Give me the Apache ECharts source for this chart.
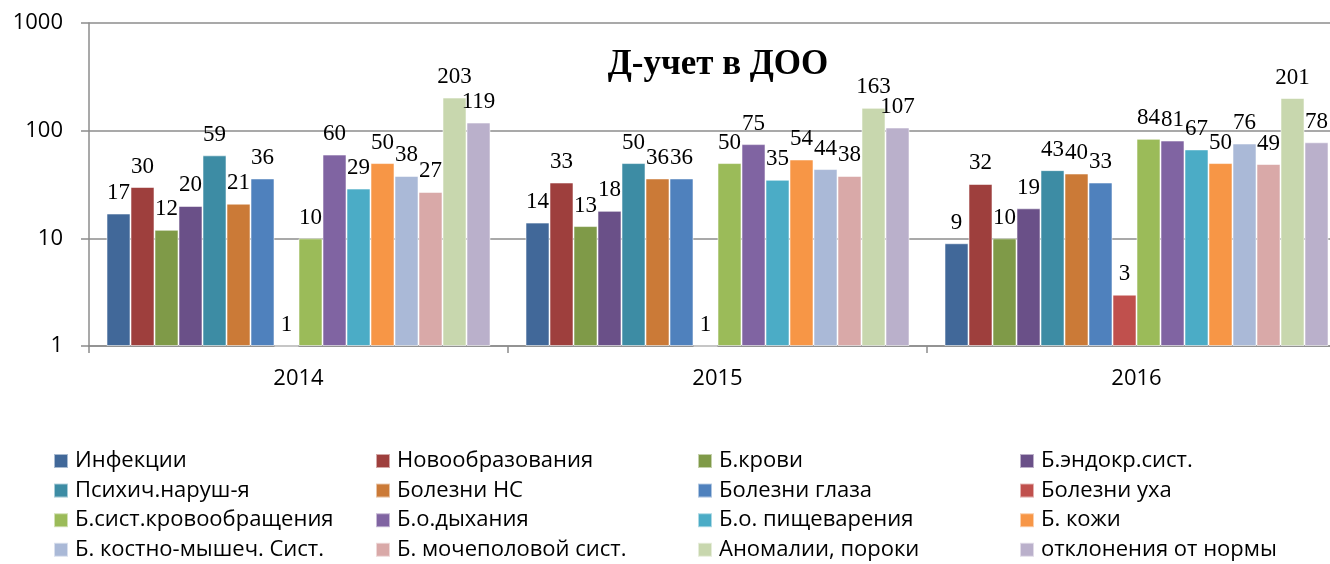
<!DOCTYPE html>
<html>
<head>
<meta charset="utf-8">
<script src="https://cdn.jsdelivr.net/npm/echarts@6/dist/echarts.min.js"></script>
<style>
  html, body { margin: 0; padding: 0; background: #fff; }
  #chart { width: 1330px; height: 564px; }
</style>
</head>
<body>
<div id="chart"></div>
<script>
// Years on the category axis
const years = ['2014', '2015', '2016'];

// Disease groups (series names)
const seriesNames = [
  'Инфекции', 'Новообразования', 'Б.крови', 'Б.эндокр.сист.',
  'Психич.наруш-я', 'Болезни НС', 'Болезни глаза', 'Болезни уха',
  'Б.сист.кровообращения', 'Б.о.дыхания', 'Б.о. пищеварения', 'Б. кожи',
  'Б. костно-мышеч. Сист.', 'Б. мочеполовой сист.', 'Аномалии, пороки', 'отклонения от нормы'
];

// Values per series, in the order of years
const infections     = [17, 14, 9];
const neoplasms      = [30, 33, 32];
const blood          = [12, 13, 10];
const endocrine      = [20, 18, 19];
const mental         = [59, 50, 43];
const nervous        = [21, 36, 40];
const eye            = [36, 36, 33];
const ear            = [1, 1, 3];
const circulatory    = [10, 50, 84];
const respiratory    = [60, 75, 81];
const digestive      = [29, 35, 67];
const skin           = [50, 54, 50];
const musculoskeletal= [38, 44, 76];
const genitourinary  = [27, 38, 49];
const anomalies      = [203, 163, 201];
const deviations     = [119, 107, 78];

const seriesValues = [
  infections, neoplasms, blood, endocrine,
  mental, nervous, eye, ear,
  circulatory, respiratory, digestive, skin,
  musculoskeletal, genitourinary, anomalies, deviations
];

// Value axis tick labels
const yTicks = [1, 10, 100, 1000];

const palette = [
  '#416899', '#9E3F3D', '#7F9A48', '#6A5088',
  '#3D8CA4', '#CB7A37', '#4F81BD', '#C0504D',
  '#9BBB59', '#8064A2', '#4BACC6', '#F79646',
  '#AAB9D7', '#D9A9A8', '#C8D7AE', '#BAB0CB'
];

const chart = echarts.init(document.getElementById('chart'), null, { renderer: 'canvas' });

// Four legend columns, four entries each (row-major order of the series)
const legendCols = [53, 375, 697, 1019];
const legends = legendCols.map((x, c) => ({
  orient: 'vertical',
  left: x,
  top: 450,
  padding: 0,
  itemWidth: 14,
  itemHeight: 14,
  itemGap: 7.6,
  icon: 'rect',
  selectedMode: false,
  data: [0, 1, 2, 3].map(r => seriesNames[r * 4 + c]),
  textStyle: {
    fontFamily: 'Open Sans, Liberation Sans, sans-serif',
    fontSize: 22,
    lineHeight: 22,
    color: '#000',
    padding: [0, 0, 0, 2]
  }
}));

const option = {
  animation: false,
  color: palette,
  title: {
    text: 'Д-учет в ДОО',
    left: 713,
    top: 42,
    textAlign: 'center',
    textStyle: {
      fontFamily: 'Liberation Serif, Times New Roman, serif',
      fontWeight: 'bold',
      fontSize: 35,
      color: '#000'
    }
  },
  legend: legends,
  // the plot area runs a little past the right edge of the canvas
  grid: { left: 89, width: 1257, top: 23, bottom: 218, containLabel: false, outerBoundsMode: 'none' },
  xAxis: {
    type: 'category',
    data: years,
    axisLine: { lineStyle: { color: '#8c8c8c', width: 1.5 } },
    axisTick: { show: true, alignWithLabel: false, length: 7, lineStyle: { color: '#8c8c8c', width: 1.5 } },
    axisLabel: {
      margin: 22,
      fontFamily: 'Open Sans, Liberation Sans, sans-serif',
      fontSize: 22,
      color: '#000'
    },
    splitLine: { show: false }
  },
  yAxis: {
    type: 'log',
    logBase: 10,
    min: yTicks[0],
    max: yTicks[yTicks.length - 1],
    axisLine: { show: true, lineStyle: { color: '#8c8c8c', width: 1.5 } },
    axisTick: { show: true, length: 8, lineStyle: { color: '#8c8c8c', width: 1.5 } },
    minorTick: { show: false },
    axisLabel: {
      margin: 26,
      fontFamily: 'Open Sans, Liberation Sans, sans-serif',
      fontSize: 22,
      color: '#000',
      formatter: v => String(Math.round(v))
    },
    splitLine: { show: true, lineStyle: { color: '#8c8c8c', width: 1.5 } }
  },
  series: seriesNames.map((name, i) => ({
    name: name,
    type: 'bar',
    data: seriesValues[i],
    barWidth: 24,
    barGap: '0%',
    itemStyle: {
      color: palette[i],
      borderColor: 'rgba(255,255,255,0.55)',
      borderWidth: 1
    },
    label: {
      show: true,
      position: 'top',
      distance: 9,
      fontFamily: 'Liberation Serif, Times New Roman, serif',
      fontSize: 23,
      color: '#000'
    }
  }))
};

chart.setOption(option);
</script>
</body>
</html>
